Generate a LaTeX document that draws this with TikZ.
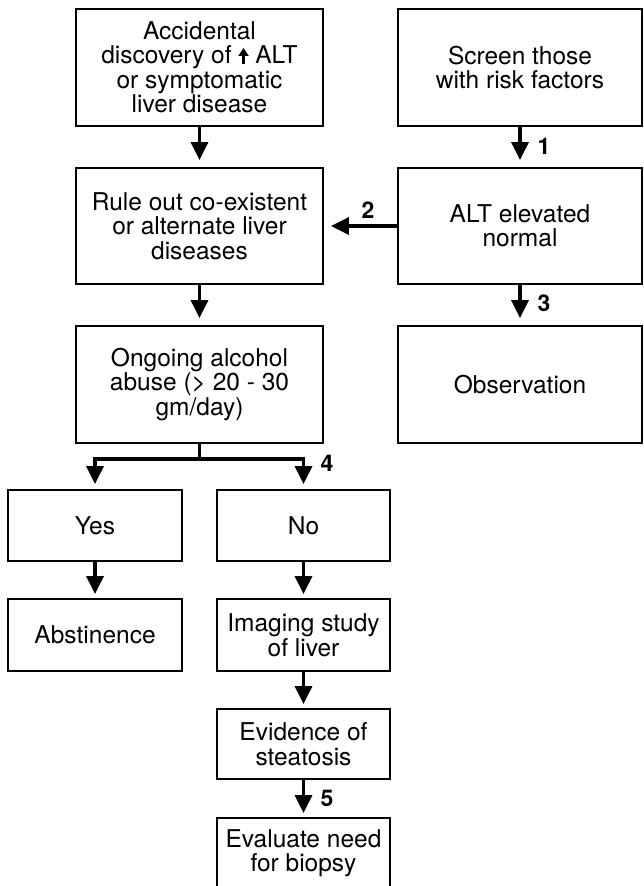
\documentclass[tikz,border=0pt]{standalone}
\usepackage{fontspec}
\setmainfont{TeX Gyre Heros}
\usetikzlibrary{arrows.meta}
\newcommand\myuparrow{\tikz[baseline=0pt]\draw[line width=2.6pt,-{Triangle[width=10pt,length=8pt]}] (0pt,0pt) -- (0pt,16pt);}
\begin{document}
\begin{tikzpicture}[x=1pt,y=-1pt,
  box/.style={draw, line width=1.8pt, align=center, inner sep=0pt,
    font=\fontsize{24.5}{24.5}\selectfont},
  arr/.style={line width=3.2pt, -{Triangle[width=17pt,length=18pt]}, shorten >=7pt},
  seg/.style={line width=3.2pt},
  num/.style={font=\bfseries\fontsize{23}{23}\selectfont, inner sep=0pt}]
\useasboundingbox (0,0) rectangle (644,886);
\clip (0,0) rectangle (644,886);
% left column
\node[box, minimum width=247pt, minimum height=117pt] (A) at (199.5,67.5)
  {Accidental\\discovery of \myuparrow\ ALT\\or symptomatic\\liver disease};
\node[box, minimum width=247pt, minimum height=116pt] (B) at (199.5,226)
  {Rule out co-existent\\or alternate liver\\diseases};
\node[box, minimum width=247pt, minimum height=117pt] (C) at (199.5,384.5)
  {Ongoing alcohol\\abuse (> 20 - 30\\gm/day)};
% right column
\node[box, minimum width=244pt, minimum height=117pt] (S) at (520,67.5)
  {Screen those\\with risk factors};
\node[box, minimum width=244pt, minimum height=116pt] (E) at (520,226)
  {ALT elevated\\normal};
\node[box, minimum width=244pt, minimum height=117pt] (O) at (520,384.5)
  {Observation};
% lower
\node[box, minimum width=174pt, minimum height=71pt] (Y) at (95,525.5) {Yes};
\node[box, minimum width=173pt, minimum height=71pt] (N) at (303.5,525.5) {No};
\node[box, minimum width=174pt, minimum height=72pt] (Ab) at (95,635) {Abstinence};
\node[box, minimum width=173pt, minimum height=72pt] (I) at (303.5,635) {Imaging study\\of liver};
\node[box, minimum width=173pt, minimum height=70pt] (Ev) at (303.5,744) {Evidence of\\steatosis};
\node[box, minimum width=173pt, minimum height=70pt] (Bi) at (303.5,853) {Evaluate need\\for biopsy};
% connectors
\draw[arr] (A) -- (B);
\draw[arr] (B) -- (C);
\draw[arr] (S) -- (E);
\draw[arr] (E) -- (O);
\draw[arr] (E.west) -- (B.east);
\draw[seg] (C.south) -- ++(0,15) coordinate (j);
\draw[arr, shorten >=5pt] (j) -| (Y.north);
\draw[arr, shorten >=5pt] (j) -| (N.north);
\draw[arr, shorten >=4pt] (Y) -- (Ab);
\draw[arr, shorten >=4pt] (N) -- (I);
\draw[arr, shorten >=4pt] (I) -- (Ev);
\draw[arr, shorten >=4pt] (Ev) -- (Bi);
% labels
\node[num] (l1) at (544,146) {1};
\node[num] (l2) at (368,210) {2};
\node[num] (l3) at (544,303) {3};
\node[num] (l4) at (327,463) {4};
\node[num] (l5) at (327,798) {5};
\end{tikzpicture}
\end{document}
